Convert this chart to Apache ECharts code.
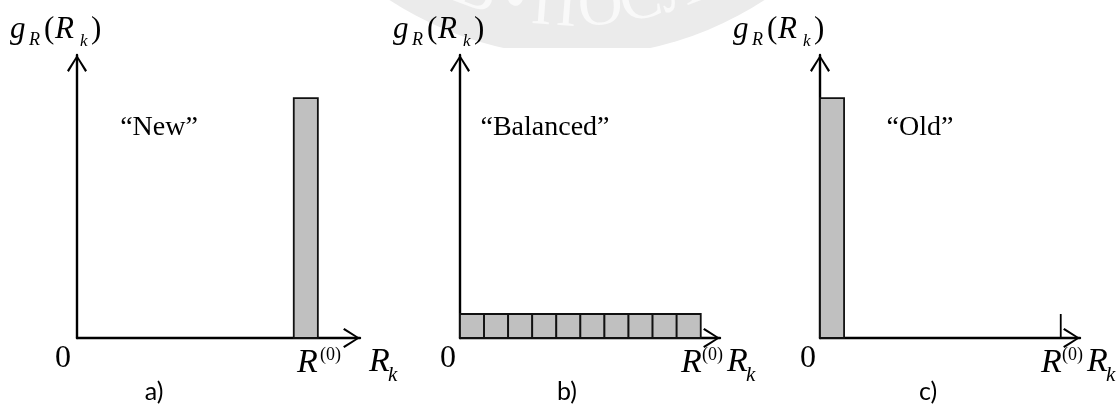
<!DOCTYPE html>
<html>
<head>
    <meta charset="UTF-8">
    <title>g_R(R_k): New / Balanced / Old</title>
    <script src="https://cdn.jsdelivr.net/npm/echarts@6/dist/echarts.min.js"></script>
    <style>html, body {margin: 0; background: #fff;}</style>
</head>
<body>
<div id="main" style="width: 1118px;height:406px;"></div>
<script type="text/javascript">
    // each bar: [start R, end R, height g]
    var newBars = [[9, 10, 10]];
    var balancedBars = [[0, 1, 1], [1, 2, 1], [2, 3, 1], [3, 4, 1], [4, 5, 1],
        [5, 6, 1], [6, 7, 1], [7, 8, 1], [8, 9, 1], [9, 10, 1]];
    var oldBars = [[0, 1, 10]];
    var r0Tick = [[10, 1]];   // small mark at R(0) on panel c
    var panelNames = ['\u201cNew\u201d', '\u201cBalanced\u201d', '\u201cOld\u201d'];
    var panelTags = ['a)', 'b)', 'c)'];
    var xMax = [11.75, 10.8, 10.8];
    var yMax = 11.8;

    var serif = '"Liberation Serif", "Times New Roman", serif';
    var gridLeft = [77, 460, 820];
    var gridWidth = [283, 260, 260];
    var arrow = 'path://M10,0L20,15.5L18.2,16.8L10,3.2L1.8,16.8L0,15.5Z';

    function barItem(params, api) {
        var top = api.coord([api.value(0), api.value(2)]);
        var bot = api.coord([api.value(1), 0]);
        return {
            type: 'rect',
            shape: {x: top[0], y: top[1], width: bot[0] - top[0], height: bot[1] - top[1]},
            style: {fill: '#c0c0c0', stroke: '#111', lineWidth: 1.8}
        };
    }

    function tickItem(params, api) {
        var a = api.coord([api.value(0), 0]);
        var b = api.coord([api.value(0), api.value(1)]);
        return {
            type: 'line',
            shape: {x1: a[0], y1: a[1], x2: b[0], y2: b[1]},
            style: {stroke: '#000', lineWidth: 1.8}
        };
    }

    // text placed by its baseline
    function txt(x, base, s, size, italic, align, family) {
        return {
            type: 'text', x: x, y: base - 0.34 * size,
            style: {
                text: s, fill: '#000', align: align || 'left', verticalAlign: 'middle',
                font: (italic ? 'italic ' : '') + size + 'px ' + (family || serif)
            }
        };
    }

    var grids = [], xAxes = [], yAxes = [], series = [], graphics = [];

    // faint seal watermark at the top
    graphics.push({type: 'circle', z: -3, shape: {cx: 577, cy: -286, r: 342}, style: {fill: '#ebebeb'}});
    [['\u0412', 466], ['\u2022', 508], ['\u041f', 552], ['\u041e', 603], ['\u0421', 648], ['\u041b', 690]].forEach(function (c) {
        var th = Math.asin((c[1] - 577) / 326);
        graphics.push({
            type: 'text', z: -3, x: 577 + 326 * Math.sin(th), y: -286 + 326 * Math.cos(th),
            rotation: th,
            style: {text: c[0], fill: '#f9f9f9', align: 'center', verticalAlign: 'bottom', font: '62px ' + serif}
        });
    });
    graphics.push({type: 'rect', z: -2, shape: {x: 0, y: 48, width: 1118, height: 360}, style: {fill: '#fff'}});

    var bars = [newBars, balancedBars, oldBars];
    for (var i = 0; i < 3; i++) {
        grids.push({left: gridLeft[i], top: 55, width: gridWidth[i], height: 283, outerBoundsMode: 'none'});
        xAxes.push({
            type: 'value', gridIndex: i, min: 0, max: xMax[i],
            axisLine: {lineStyle: {color: '#000', width: 2.4}, symbol: ['none', arrow], symbolSize: [20, 17], symbolOffset: [0, -8.5]},
            axisTick: {show: false}, axisLabel: {show: false}, splitLine: {show: false}
        });
        yAxes.push({
            type: 'value', gridIndex: i, min: 0, max: yMax,
            axisLine: {lineStyle: {color: '#000', width: 2.4}, symbol: ['none', arrow], symbolSize: [20, 17], symbolOffset: [0, -8.5]},
            axisTick: {show: false}, axisLabel: {show: false}, splitLine: {show: false}
        });
        series.push({
            type: 'custom', xAxisIndex: i, yAxisIndex: i, renderItem: barItem,
            encode: {x: [0, 1], y: 2}, data: bars[i], silent: true
        });
    }
    series.push({
        type: 'custom', xAxisIndex: 2, yAxisIndex: 2, renderItem: tickItem,
        encode: {x: 0, y: 1}, data: r0Tick, silent: true
    });

    // axis titles and labels
    var yLabX = [10, 393, 733];
    var zeroX = [63, 448, 808];
    var r0X = [297, 681, 1041];
    var rkX = [369, 727, 1087];
    var nameX = [159, 545, 920];
    var tagX = [154, 567, 928];
    for (var j = 0; j < 3; j++) {
        var s = yLabX[j];
        graphics.push(txt(s, 40, 'g', 31, true));
        graphics.push(txt(s + 19, 46, 'R', 18, true));
        graphics.push(txt(s + 34, 40, '(', 31, false));
        graphics.push(txt(s + 45, 40, 'R', 31, true));
        graphics.push(txt(s + 70, 47, 'k', 17, true));
        graphics.push(txt(s + 81, 40, ')', 31, false));

        graphics.push(txt(zeroX[j], 369, '0', 32, false, 'center'));

        graphics.push(txt(r0X[j], 375, 'R', 34, true));
        graphics.push(txt(r0X[j] + (j === 0 ? 23 : 21), 361, '(0)', 18, false));

        graphics.push(txt(rkX[j], 374, 'R', 34, true));
        graphics.push(txt(rkX[j] + 19, 383, 'k', 21, true));

        graphics.push(txt(nameX[j], 137, panelNames[j], 28, false, 'center'));
        graphics.push(txt(tagX[j], 400, panelTags[j], 25, false, 'center', 'Lato, "Open Sans", sans-serif'));
    }

    echarts.init(document.getElementById('main')).setOption({
        animation: false,
        backgroundColor: '#fff',
        grid: grids,
        xAxis: xAxes,
        yAxis: yAxes,
        series: series,
        graphic: graphics
    });
</script>
</body>
</html>
